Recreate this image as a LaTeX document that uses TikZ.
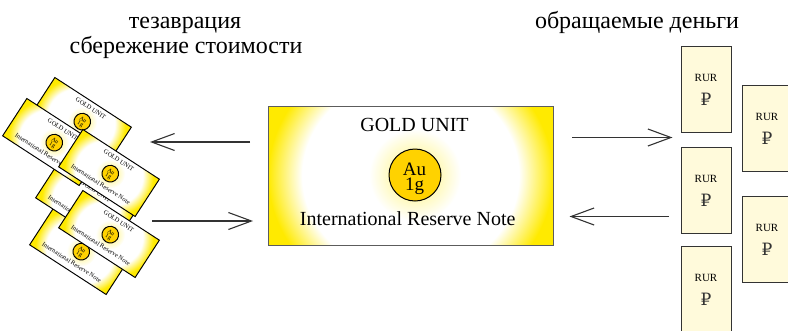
\documentclass[tikz,border=0pt]{standalone}
\usepackage{fontspec}
\setmainfont{Liberation Serif}
\newfontfamily\rubfont{DejaVu Serif}
\usetikzlibrary{arrows.meta}
\definecolor{gyel}{HTML}{FFEA00}
\definecolor{coinc}{HTML}{FFD200}
\definecolor{billc}{HTML}{FFFADB}
\definecolor{edgec}{HTML}{333333}
\pgfdeclareradialshading{notesh}{\pgfpoint{0bp}{0bp}}{color(0bp)=(white); color(19bp)=(white); color(25bp)=(gyel); color(50bp)=(gyel)}
\pgfdeclareradialshading{glowsh}{\pgfpoint{0bp}{0bp}}{color(0bp)=(gyel!45); color(14bp)=(gyel!25); color(25bp)=(white); color(50bp)=(white)}
\newcommand\goldnote[3]{% #1 name prefix, #2 line width, #3 border colour
  \begin{scope}
    \clip (-142.5,-69.5) rectangle (142.5,69.5);
    \shade[shading=notesh] (-142.5,-130) rectangle (142.5,130);
  \end{scope}
  \shade[shading=glowsh] (4.5,-0.5) circle (46);
  \node[coinnode, line width=#2] (#1coin) at (4.5,-0.5) {};
  \node[cointext] (#1au) at (4,3) {Au\\1g};
  \node[notetext, anchor=base] (#1title) at (4,-43.8) {GOLD UNIT};
  \node[notetext, anchor=base] (#1sub) at (-2.8,50.2) {International Reserve Note};
  \node[notebox, line width=#2, draw=#3] (#1box) at (0,0) {};
}
\tikzset{
  coinnode/.style={circle, fill=coinc, draw=black, minimum size=52pt, inner sep=0pt},
  cointext/.style={font=\fontsize{19}{15}\selectfont, align=center, inner sep=0pt},
  notetext/.style={font=\fontsize{20}{24}\selectfont, inner sep=0pt},
  notebox/.style={rectangle, minimum width=285pt, minimum height=139pt, inner sep=0pt},
  arr/.style={draw=edgec, line width=1.1pt, -{Straight Barb[length=23pt,width=17pt]}},
  billbox/.style={rectangle, draw=edgec, fill=billc, line width=1pt, minimum width=50pt, minimum height=86pt, inner sep=0pt},
  rurtext/.style={font=\fontsize{11}{13}\selectfont, inner sep=0pt},
  rubtext/.style={font=\rubfont\fontsize{17}{19}\selectfont, text=edgec, inner sep=0pt},
  titletext/.style={font=\fontsize{24}{28}\selectfont, inner sep=0pt, anchor=base},
}
\begin{document}
\begin{tikzpicture}[x=1pt, y=-1pt]
\useasboundingbox (0,0) rectangle (788,330);
% titles
\node[titletext] (t1) at (185,28.3) {тезаврация};
\node[titletext] (t2) at (186,53) {сбережение стоимости};
\node[titletext] (t3) at (637,28.3) {обращаемые деньги};
% stacked notes
\foreach \nm/\cx/\cy in {A/81/121, F/80/251, D/86/204, B/53/142, C/109/173, E/109/234} {
  \begin{scope}[transform canvas={shift={(\cx,\cy)}, rotate=-33, scale=0.32}]
    \goldnote{\nm}{3pt}{black}
  \end{scope}
}
% main note
\begin{scope}[shift={(410.5,175.5)}]
  \goldnote{gold}{1pt}{edgec!80}
\end{scope}
% bills
\foreach \nm/\bx/\by in {b1/706/89, b2/706/190, b3/706/289, b4/767/128, b5/767/239} {
  \node[billbox] (\nm) at (\bx,\by) {};
  \node[rurtext] (\nm r) at ([yshift=11pt]\nm.center) {RUR};
  \node[rubtext] (\nm s) at ([yshift=-10pt]\nm.center) {₽};
}
% arrows
\coordinate (l1s) at (250,142);
\coordinate (l1e) at (150,142);
\coordinate (l2s) at (152,221);
\coordinate (l2e) at (253,221);
\coordinate (r1s) at (572,137.5);
\coordinate (r1e) at (672.5,137.5);
\coordinate (r2s) at (669,216.5);
\coordinate (r2e) at (569.5,216.5);
\draw[arr] (l1s) -- (l1e);
\draw[arr] (l2s) -- (l2e);
\draw[arr] (r1s) -- (r1e);
\draw[arr] (r2s) -- (r2e);
\end{tikzpicture}
\end{document}
